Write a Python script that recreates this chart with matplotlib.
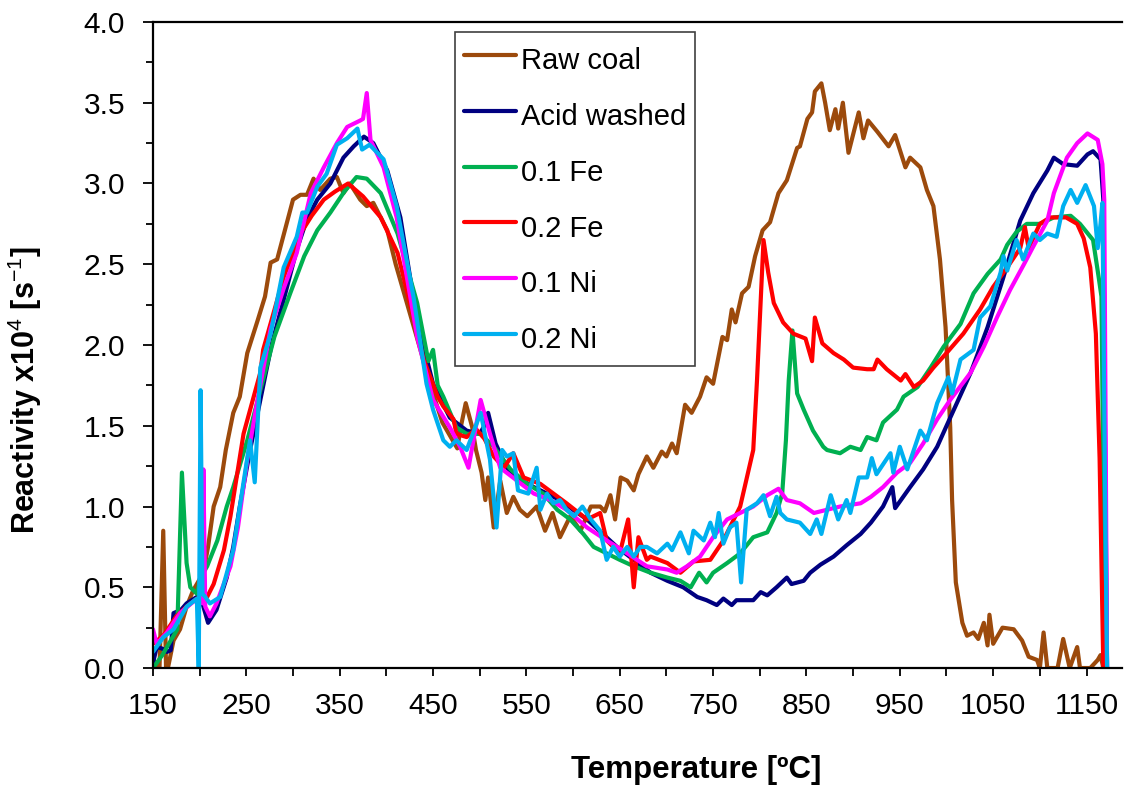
import matplotlib
matplotlib.use('Agg')
import matplotlib.pyplot as plt
from matplotlib.ticker import MultipleLocator, FormatStrFormatter

plt.rcParams['font.family'] = ['Liberation Sans', 'DejaVu Sans']
plt.rcParams['mathtext.fontset'] = 'custom'
plt.rcParams['mathtext.rm'] = 'Liberation Sans'
plt.rcParams['mathtext.bf'] = 'Liberation Sans:bold'

# data (temperature in C, reactivity x1e4 in 1/s)
raw_t = [150, 157, 161, 164, 166, 172, 179, 186, 193, 204, 209, 215, 222, 228, 236, 243, 251, 262, 270, 276,
         283, 294, 300, 308, 315, 322, 329, 340, 347, 354, 361, 372, 379, 386, 401, 410, 420, 430, 440, 450,
         460, 470, 476, 480, 485, 492, 496, 502, 506, 509, 515, 522, 529, 536, 543, 551, 561, 570, 578, 586,
         597, 608, 619, 629, 634, 640, 645, 651, 658, 665, 670, 679, 686, 695, 700, 706, 711, 720, 727, 736,
         743, 750, 760, 765, 770, 774, 781, 788, 795, 803, 811, 820, 829, 840, 843, 851, 856, 859, 866, 870,
         875, 881, 884, 889, 895, 906, 911, 916, 926, 938, 945, 956, 961, 972, 979, 986, 993, 999, 1004, 1006,
         1010, 1017, 1022, 1029, 1034, 1040, 1044, 1046, 1050, 1060, 1072, 1081, 1088, 1097, 1100, 1104, 1108,
         1119, 1125, 1132, 1140, 1143, 1154, 1162, 1165, 1168]
raw_r = [0.05, 0.0, 0.85, 0.0, 0.0, 0.17, 0.24, 0.38, 0.48, 0.59, 0.75, 1.0, 1.12, 1.35, 1.58, 1.68, 1.95, 2.15, 2.30, 2.51,
         2.53, 2.77, 2.90, 2.93, 2.93, 3.03, 2.96, 3.03, 3.04, 2.94, 3.00, 2.90, 2.86, 2.88, 2.71, 2.50, 2.30, 2.10, 1.90, 1.70,
         1.52, 1.42, 1.36, 1.50, 1.64, 1.49, 1.35, 1.21, 1.04, 1.18, 0.87, 1.16, 0.96, 1.06, 0.98, 0.94, 1.00, 0.85, 0.96, 0.81,
         0.94, 0.85, 1.00, 1.00, 0.97, 1.07, 0.92, 1.18, 1.16, 1.10, 1.20, 1.31, 1.24, 1.34, 1.31, 1.39, 1.33, 1.63, 1.58, 1.68,
         1.80, 1.76, 2.05, 2.03, 2.22, 2.14, 2.32, 2.36, 2.55, 2.71, 2.76, 2.94, 3.02, 3.22, 3.23, 3.40, 3.44, 3.57, 3.62, 3.50,
         3.33, 3.46, 3.34, 3.50, 3.19, 3.44, 3.28, 3.39, 3.32, 3.23, 3.30, 3.10, 3.16, 3.10, 2.96, 2.86, 2.53, 2.11, 1.49, 1.04,
         0.53, 0.28, 0.20, 0.22, 0.18, 0.28, 0.14, 0.33, 0.15, 0.25, 0.24, 0.17, 0.07, 0.05, 0.0, 0.22, 0.0,
         0.0, 0.18, 0.0, 0.13, 0.0, 0.0, 0.05, 0.08, 0.0]

acid_t = [150, 154, 160, 165, 169, 172, 180, 186, 197, 203, 209, 218, 229, 236, 243, 254, 265, 277, 290, 304,
          315, 326, 340, 354, 365, 376, 386, 401, 415, 433, 450, 468, 486, 500, 505, 509, 517, 529, 543, 558,
          572, 586, 600, 615, 630, 647, 665, 683, 701, 718, 733, 743, 754, 761, 770, 775, 793, 801, 808, 818,
          829, 834, 847, 854, 865, 879, 893, 908, 919, 932, 942, 945, 961, 975, 990, 1004, 1026, 1044, 1061, 1079,
          1093, 1108, 1115, 1125, 1140, 1151, 1157, 1165, 1168, 1170, 1172]
acid_r = [0.03, 0.13, 0.12, 0.10, 0.11, 0.34, 0.36, 0.40, 0.44, 0.40, 0.28, 0.36, 0.56, 0.75, 1.00, 1.35, 1.66, 2.00, 2.28, 2.59,
          2.78, 2.90, 3.00, 3.16, 3.23, 3.29, 3.25, 3.08, 2.79, 2.15, 1.76, 1.55, 1.47, 1.45, 1.50, 1.58, 1.39, 1.24, 1.17, 1.12,
          1.08, 1.04, 0.98, 0.92, 0.84, 0.75, 0.67, 0.59, 0.54, 0.50, 0.44, 0.42, 0.39, 0.43, 0.39, 0.42, 0.42, 0.47, 0.45, 0.50,
          0.56, 0.52, 0.54, 0.59, 0.64, 0.69, 0.76, 0.83, 0.90, 1.00, 1.12, 0.99, 1.12, 1.23, 1.37, 1.55, 1.83, 2.11, 2.42, 2.77,
          2.94, 3.08, 3.16, 3.12, 3.11, 3.18, 3.20, 3.15, 2.90, 1.29, 0.0]

fe1_t = [150, 160, 170, 176, 181, 186, 190, 197, 201, 208, 219, 229, 236, 251, 265, 280, 297, 312, 326, 340,
         355, 368, 379, 394, 412, 433, 445, 450, 455, 461, 475, 486, 501, 515, 533, 551, 568, 583, 597, 611,
         622, 636, 650, 665, 683, 701, 715, 726, 735, 743, 750, 765, 779, 793, 808, 818, 824, 828, 831, 835,
         840, 847, 857, 868, 872, 886, 897, 908, 915, 925, 932, 947, 954, 969, 983, 997, 1015, 1029, 1044, 1058,
         1065, 1075, 1086, 1100, 1115, 1133, 1143, 1157, 1163, 1166, 1170]
fe1_r = [0.0, 0.08, 0.18, 0.24, 1.21, 0.65, 0.50, 0.46, 0.56, 0.63, 0.79, 1.00, 1.12, 1.41, 1.72, 2.05, 2.32, 2.55, 2.71, 2.82,
         2.95, 3.04, 3.03, 2.94, 2.69, 2.26, 1.90, 1.97, 1.75, 1.68, 1.49, 1.45, 1.45, 1.37, 1.23, 1.14, 1.08, 0.98, 0.92, 0.83,
         0.75, 0.71, 0.67, 0.63, 0.59, 0.56, 0.54, 0.50, 0.59, 0.53, 0.59, 0.65, 0.71, 0.81, 0.84, 0.96, 1.08, 1.41, 1.78, 2.09,
         1.70, 1.60, 1.47, 1.37, 1.35, 1.33, 1.37, 1.35, 1.43, 1.41, 1.52, 1.60, 1.68, 1.74, 1.86, 1.99, 2.13, 2.32, 2.44, 2.53,
         2.62, 2.70, 2.75, 2.75, 2.79, 2.80, 2.75, 2.65, 2.42, 2.30, 0.0]

fe2_t = [150, 161, 175, 186, 197, 208, 215, 226, 233, 247, 265, 268, 290, 308, 320, 333, 345, 359, 375, 394,
         412, 426, 440, 455, 461, 472, 475, 486, 496, 505, 515, 526, 536, 547, 565, 579, 593, 615, 629, 636,
         650, 659, 665, 670, 679, 683, 701, 715, 729, 747, 761, 779, 793, 797, 804, 809, 815, 825, 836, 849,
         856, 859, 867, 879, 890, 900, 915, 922, 926, 936, 951, 956, 965, 975, 986, 1000, 1018, 1036, 1050, 1065,
         1079, 1084, 1088, 1100, 1111, 1128, 1140, 1147, 1154, 1160, 1164, 1168]
fe2_r = [0.15, 0.20, 0.32, 0.38, 0.43, 0.44, 0.52, 0.73, 0.94, 1.45, 1.83, 1.97, 2.42, 2.69, 2.80, 2.90, 2.95, 3.00, 2.92, 2.79,
         2.57, 2.24, 1.91, 1.68, 1.62, 1.54, 1.45, 1.43, 1.48, 1.42, 1.31, 1.24, 1.33, 1.18, 1.14, 1.08, 1.02, 0.92, 0.96, 0.79,
         0.71, 0.92, 0.50, 0.81, 0.67, 0.69, 0.65, 0.59, 0.66, 0.67, 0.79, 1.00, 1.35, 1.78, 2.65, 2.45, 2.26, 2.14, 2.07, 2.04,
         1.90, 2.17, 2.01, 1.95, 1.91, 1.86, 1.85, 1.85, 1.91, 1.85, 1.78, 1.82, 1.74, 1.78, 1.86, 1.95, 2.07, 2.22, 2.36, 2.48,
         2.60, 2.73, 2.60, 2.75, 2.79, 2.79, 2.75, 2.66, 2.48, 2.07, 1.30, 0.0]

ni1_t = [150, 154, 165, 179, 193, 200, 203, 204, 206, 211, 218, 233, 241, 251, 262, 276, 290, 304, 319, 333,
         347, 358, 372, 375, 379, 383, 397, 411, 433, 450, 468, 479, 488, 501, 511, 522, 540, 558, 576, 593,
         615, 636, 658, 679, 701, 711, 722, 736, 750, 765, 779, 793, 808, 820, 829, 843, 858, 872, 886, 908,
         919, 932, 947, 961, 975, 990, 1004, 1026, 1040, 1054, 1068, 1083, 1093, 1108, 1115, 1129, 1140, 1151, 1162, 1167,
         1169, 1172]
ni1_r = [0.24, 0.15, 0.22, 0.34, 0.41, 0.43, 0.40, 1.23, 0.38, 0.32, 0.40, 0.63, 0.87, 1.29, 1.66, 2.10, 2.35, 2.57, 2.94, 3.10,
         3.25, 3.35, 3.39, 3.40, 3.56, 3.27, 3.10, 2.79, 2.05, 1.66, 1.49, 1.37, 1.24, 1.66, 1.45, 1.24, 1.16, 1.08, 1.04, 0.98,
         0.87, 0.79, 0.71, 0.63, 0.61, 0.59, 0.63, 0.69, 0.81, 0.92, 0.96, 1.00, 1.07, 1.11, 1.04, 1.02, 0.96, 0.98, 1.00, 1.02,
         1.06, 1.12, 1.21, 1.27, 1.39, 1.54, 1.66, 1.83, 1.99, 2.17, 2.34, 2.50, 2.61, 2.77, 2.94, 3.16, 3.25, 3.31, 3.27, 3.12,
         2.90, 0.0]

ni2_t = [150, 161, 172, 186, 197, 199, 201, 203, 206, 211, 222, 233, 236, 247, 254, 259, 265, 276, 290, 304,
         310, 315, 326, 336, 347, 358, 369, 374, 382, 397, 411, 429, 443, 450, 461, 468, 475, 486, 501, 511,
         518, 524, 529, 536, 541, 552, 561, 565, 572, 579, 586, 593, 601, 610, 619, 629, 636, 643, 650, 658,
         665, 672, 679, 690, 701, 706, 715, 724, 729, 740, 747, 752, 756, 761, 768, 775, 780, 786, 797, 804,
         811, 818, 822, 829, 843, 854, 861, 866, 876, 884, 893, 897, 906, 915, 920, 925, 940, 943, 950, 958,
         972, 979, 990, 1002, 1006, 1015, 1029, 1036, 1047, 1058, 1061, 1065, 1075, 1082, 1093, 1100, 1108, 1118, 1125, 1133,
         1140, 1149, 1158, 1162, 1165, 1167, 1170, 1172]
ni2_r = [0.10, 0.19, 0.24, 0.38, 0.43, 0.0, 1.72, 0.46, 0.44, 0.40, 0.44, 0.67, 0.73, 1.15, 1.41, 1.15, 1.86, 2.07, 2.48, 2.67,
         2.82, 2.82, 2.98, 3.06, 3.24, 3.28, 3.34, 3.21, 3.24, 3.15, 2.86, 2.30, 1.76, 1.60, 1.41, 1.37, 1.41, 1.35, 1.58, 1.29,
         0.87, 1.35, 1.31, 1.33, 1.10, 1.08, 1.24, 0.98, 1.08, 1.02, 1.04, 0.98, 0.94, 1.00, 0.92, 0.85, 0.67, 0.75, 0.69, 0.75,
         0.69, 0.75, 0.75, 0.71, 0.77, 0.73, 0.84, 0.71, 0.85, 0.79, 0.90, 0.81, 0.96, 0.77, 0.87, 0.90, 0.53, 0.98, 1.02, 1.07,
         0.94, 1.06, 0.96, 0.92, 0.90, 0.83, 0.92, 0.83, 1.07, 0.92, 1.04, 0.96, 1.18, 1.18, 1.30, 1.20, 1.33, 1.21, 1.37, 1.23,
         1.47, 1.41, 1.64, 1.80, 1.70, 1.91, 1.97, 2.17, 2.24, 2.45, 2.55, 2.46, 2.65, 2.53, 2.69, 2.65, 2.69, 2.67, 2.86, 2.96,
         2.88, 2.99, 2.86, 2.60, 2.75, 2.88, 1.00, 0.0]

labels = ['Raw coal', 'Acid washed', '0.1 Fe', '0.2 Fe', '0.1 Ni', '0.2 Ni']
colors = ['#9C4A0C', '#000080', '#00B050', '#FF0000', '#FF00FF', '#00B0F0']
x_major = [150, 250, 350, 450, 550, 650, 750, 850, 950, 1050, 1150]
x_minor = [200, 300, 400, 500, 600, 700, 800, 900, 1000, 1100]

fig = plt.figure(figsize=(11.29, 7.85), dpi=100)
ax = fig.add_axes([0.1355, 0.149, 0.8583, 0.823])

series = [(raw_t, raw_r), (acid_t, acid_r), (fe1_t, fe1_r), (fe2_t, fe2_r), (ni1_t, ni1_r), (ni2_t, ni2_r)]
for i in range(len(series)):
    ax.plot(series[i][0], series[i][1], color=colors[i], lw=3, label=labels[i],
            solid_joinstyle='round', solid_capstyle='round')

ax.set_xlim(150, 1188)
ax.set_ylim(0, 4.0)
ax.set_xticks(x_major)
ax.set_xticks(x_minor, minor=True)
ax.yaxis.set_major_locator(MultipleLocator(0.5))
ax.yaxis.set_minor_locator(MultipleLocator(0.25))
ax.yaxis.set_major_formatter(FormatStrFormatter('%.1f'))

ax.tick_params(which='both', direction='out', width=1.3, labelsize=21.5)
ax.tick_params(axis='x', which='both', length=6, pad=11)
ax.tick_params(axis='y', which='major', length=7, pad=13)
ax.tick_params(axis='y', which='minor', length=5)
ax.spines['right'].set_visible(False)
for s in ['top', 'left', 'bottom']:
    ax.spines[s].set_linewidth(1.6)

ax.set_xlabel('Temperature [ºC]', fontsize=22.5, fontweight='bold')
ax.xaxis.set_label_coords(0.5604, -0.135)
ax.set_ylabel(r'Reactivity x10$^{4}$ [s$^{-1}$]', fontsize=22, fontweight='bold')
ax.yaxis.set_label_coords(-0.1125, 0.43)

leg = ax.legend(loc='upper left', bbox_to_anchor=(0.3117, 0.9845), fontsize=21,
                frameon=True, fancybox=False, edgecolor='#404040', framealpha=1,
                handlelength=1.8, handleheight=1.6, handletextpad=0.15, labelspacing=0.63,
                borderpad=0.3, borderaxespad=0)
leg.get_frame().set_linewidth(1.2)

plt.savefig('out.png', dpi=100)
